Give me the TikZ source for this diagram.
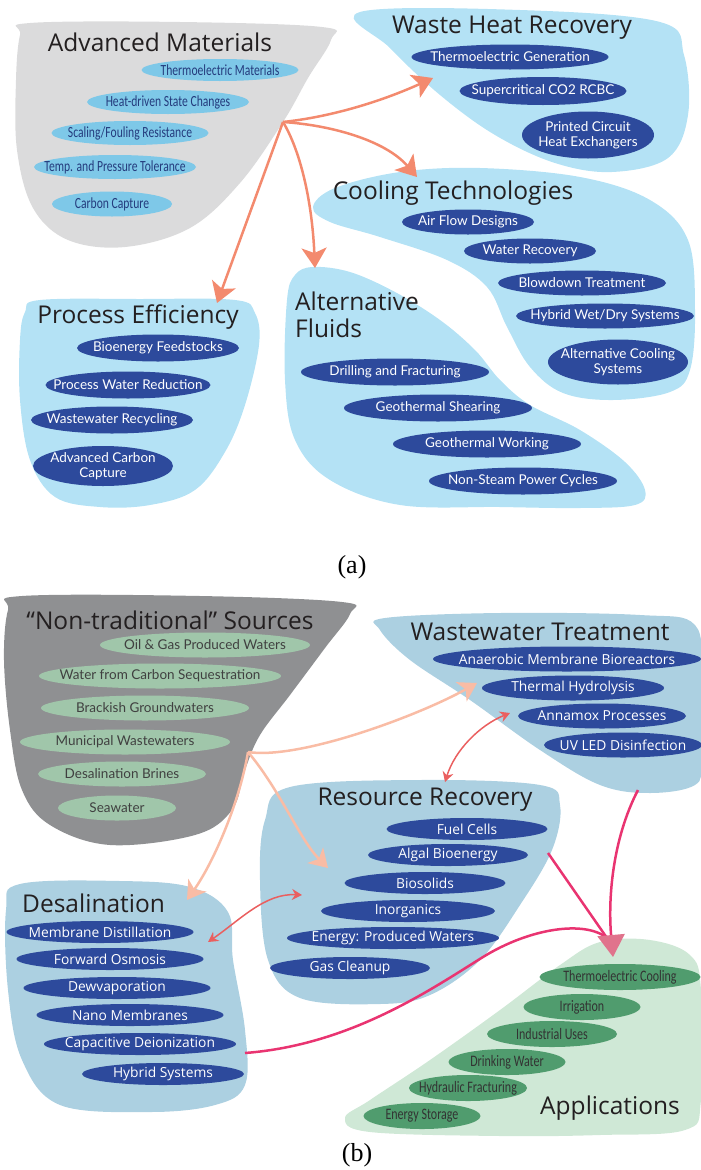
\documentclass[tikz,border=0pt]{standalone}
\usepackage{fontspec}
\setmainfont{Lato}
\newfontfamily\headfont{Open Sans}
\newfontfamily\condfont[FakeStretch=0.75]{Carlito}
\newfontfamily\capfont{Liberation Serif}
\usepackage{tikz}
\usetikzlibrary{arrows.meta,shapes.geometric}

\definecolor{lgray}{RGB}{219,219,220}
\definecolor{dgray}{RGB}{143,144,146}
\definecolor{skyblob}{RGB}{180,226,245}
\definecolor{steelblob}{RGB}{172,208,225}
\definecolor{mintblob}{RGB}{207,232,214}
\definecolor{cyanell}{RGB}{126,200,232}
\definecolor{navyell}{RGB}{45,74,156}
\definecolor{sageell}{RGB}{160,198,170}
\definecolor{greenell}{RGB}{80,156,110}
\definecolor{titletxt}{RGB}{35,31,32}
\definecolor{salmon}{RGB}{243,138,110}
\definecolor{peach}{RGB}{249,188,165}
\definecolor{coral}{RGB}{234,95,95}
\definecolor{magent}{RGB}{233,52,113}
\definecolor{headpink}{RGB}{224,115,140}

\begin{document}
\begin{tikzpicture}[
    x=1pt, y=-1pt,
    grouptitle/.style={font=\headfont\fontsize{24.5}{27}\selectfont, text=titletxt, inner sep=0},
    itm/.style={ellipse, inner xsep=-100pt, inner ysep=-20pt, align=center},
    cyitem/.style={itm, fill=cyanell, text=navyell!80!black, font=\condfont\fontsize{15.5}{17}\selectfont},
    nvitem/.style={itm, fill=navyell, text=white, font=\fontsize{13.5}{15}\selectfont},
    nvbitem/.style={itm, fill=navyell, text=white, font=\headfont\fontsize{13.8}{16}\selectfont},
    sgitem/.style={itm, fill=sageell, text=black!75, font=\fontsize{13.5}{15}\selectfont},
    gnitem/.style={itm, fill=greenell, text=black!80, font=\condfont\fontsize{16}{17}\selectfont},
    orarrow/.style={draw=salmon, line width=2.5pt, -{Stealth[length=20pt,width=25pt,inset=5pt]}},
    pcarrow/.style={draw=peach, line width=2.5pt, -{Stealth[length=18pt,width=22pt,inset=5pt]}},
    dblarrow/.style={draw=coral, line width=1.5pt, {Stealth[length=10pt,width=11pt]}-{Stealth[length=10pt,width=11pt]}},
    mgline/.style={draw=magent, line width=2.5pt},
    mgarrow/.style={mgline, -{Triangle[length=22pt,width=27pt,color=headpink]}},
    capt/.style={font=\capfont\fontsize{26}{28}\selectfont, inner sep=0}
  ]
  \useasboundingbox (0,0) rectangle (701,1170);

  \fill[lgray] plot[smooth cycle, tension=0.6] coordinates {(30,23) (180,22) (322,27) (331,40) (308,78) (283,122) (240,183) (190,228) (125,247) (68,240) (33,208) (17,150) (16,80) (20,35)};
  \fill[skyblob] plot[smooth cycle, tension=0.6] coordinates {(360,12) (520,10) (660,22) (684,55) (688,115) (668,158) (612,172) (555,163) (495,135) (440,95) (390,48)};
  \fill[skyblob] plot[smooth cycle, tension=0.6] coordinates {(313,207) (335,188) (400,172) (480,168) (580,177) (650,200) (688,240) (695,310) (690,370) (670,392) (613,400) (563,393) (530,367) (507,327) (487,287) (447,260) (380,237) (330,222)};
  \fill[skyblob] plot[smooth cycle, tension=0.6] coordinates {(287,300) (295,275) (313,267) (350,272) (395,292) (440,320) (475,350) (500,380) (530,405) (580,430) (625,462) (645,490) (635,505) (580,508) (500,507) (400,505) (330,480) (295,440) (285,380)};
  \fill[skyblob] plot[smooth cycle, tension=0.6] coordinates {(25,312) (40,300) (140,299) (235,300) (255,313) (259,345) (245,405) (225,452) (195,490) (150,505) (100,507) (55,497) (30,460) (20,400) (20,340)};

  \node[grouptitle] (am) at (160,42) {Advanced Materials};
  \node[cyitem, minimum width=157, minimum height=22] (am1) at (220,70) {Thermoelectric Materials};
  \node[cyitem, minimum width=162, minimum height=24] (am2) at (168,102) {Heat-driven State Changes};
  \node[cyitem, minimum width=157, minimum height=24] (am3) at (130,133) {Scaling/Fouling Resistance};
  \node[cyitem, minimum width=162, minimum height=24] (am4) at (115,167) {Temp. and Pressure Tolerance};
  \node[cyitem, minimum width=120, minimum height=25] (am5) at (112,204) {Carbon Capture};

  \node[grouptitle] (whr) at (512,28) {Waste Heat Recovery};
  \node[nvitem, minimum width=197, minimum height=25] (whr1) at (510,57) {Thermoelectric Generation};
  \node[nvitem, minimum width=167, minimum height=28] (whr2) at (543,91) {Supercritical CO2 RCBC};
  \node[nvitem, minimum width=132, minimum height=47] (whr3) at (588,135) {Printed Circuit\\Heat Exchangers};

  \node[grouptitle] (ct) at (453,193) {Cooling Technologies};
  \node[nvitem, minimum width=132, minimum height=25] (ct1) at (468,222) {Air Flow Designs};
  \node[nvitem, minimum width=132, minimum height=25] (ct2) at (530,251) {Water Recovery};
  \node[nvitem, minimum width=168, minimum height=25] (ct3) at (582,283) {Blowdown Treatment};
  \node[nvitem, minimum width=178, minimum height=25] (ct4) at (605,316) {Hybrid Wet/Dry Systems};
  \node[nvitem, minimum width=140, minimum height=45] (ct5) at (618,362) {Alternative Cooling\\Systems};

  \node[grouptitle, anchor=west, align=left] (af) at (295,315) {Alternative\\Fluids};
  \node[nvitem, minimum width=188, minimum height=27] (af1) at (395,372) {Drilling and Fracturing};
  \node[nvitem, minimum width=188, minimum height=27] (af2) at (438,408) {Geothermal Shearing};
  \node[nvitem, minimum width=188, minimum height=27] (af3) at (487,444) {Geothermal Working};
  \node[nvitem, minimum width=188, minimum height=27] (af4) at (523,481) {Non-Steam Power Cycles};

  \node[grouptitle] (pe) at (138,317) {Process Efficiency};
  \node[nvitem, minimum width=162, minimum height=27] (pe1) at (158,348) {Bioenergy Feedstocks};
  \node[nvitem, minimum width=165, minimum height=27] (pe2) at (128,385) {Process Water Reduction};
  \node[nvitem, minimum width=162, minimum height=27] (pe3) at (112,420) {Wastewater Recycling};
  \node[nvitem, minimum width=140, minimum height=40] (pe4) at (103,466) {Advanced Carbon\\Capture};

  \coordinate (hubA) at (283,122);
  \coordinate (tipWHR) at (433,78);
  \coordinate (tipCT) at (417,177);
  \coordinate (tipAF) at (315,268);
  \coordinate (tipPE) at (217,303);
  \draw[orarrow] (hubA) .. controls (330,117) and (380,102) .. (tipWHR);
  \draw[orarrow] (hubA) .. controls (330,125) and (385,140) .. (tipCT);
  \draw[orarrow] (hubA) .. controls (300,150) and (312,200) .. (tipAF);
  \draw[orarrow] (hubA) -- (tipPE);

  \node[capt] (capa) at (352,567) {(a)};

  \fill[dgray] plot[smooth cycle, tension=0.6] coordinates {(22,596) (200,596) (342,602) (350,614) (325,648) (290,695) (260,735) (245,770) (232,810) (195,835) (110,845) (50,825) (22,790) (10,730) (4,660) (8,610)};
  \fill[steelblob] plot[smooth cycle, tension=0.6] coordinates {(385,618) (500,613) (640,615) (695,625) (701,680) (701,760) (695,785) (650,793) (600,785) (540,750) (470,700) (410,660) (380,630)};
  \fill[steelblob] plot[smooth cycle, tension=0.6] coordinates {(290,787) (420,780) (540,785) (560,805) (552,850) (520,905) (480,960) (430,995) (380,1004) (300,998) (268,960) (260,880) (265,820)};
  \fill[steelblob] plot[smooth cycle, tension=0.6] coordinates {(20,884) (120,881) (190,887) (228,912) (233,960) (245,1030) (245,1085) (215,1105) (150,1112) (60,1105) (22,1060) (8,990) (6,910)};
  \fill[mintblob] plot[smooth cycle, tension=0.6] coordinates {(600,942) (650,940) (690,955) (701,990) (701,1100) (685,1130) (600,1135) (500,1136) (370,1132) (345,1118) (370,1100) (430,1060) (500,1010) (560,965)};

  \node[grouptitle] (nts) at (170,620) {“Non-traditional” Sources};
  \node[sgitem, minimum width=210, minimum height=25] (nts1) at (205,645) {Oil \& Gas Produced Waters};
  \node[sgitem, minimum width=242, minimum height=25] (nts2) at (160,676) {Water from Carbon Sequestration};
  \node[sgitem, minimum width=208, minimum height=25] (nts3) at (145,708) {Brackish Groundwaters};
  \node[sgitem, minimum width=210, minimum height=25] (nts4) at (125,742) {Municipal Wastewaters};
  \node[sgitem, minimum width=168, minimum height=25] (nts5) at (122,774) {Desalination Brines};
  \node[sgitem, minimum width=118, minimum height=25] (nts6) at (117,808) {Seawater};

  \node[grouptitle] (wt) at (540,632) {Wastewater Treatment};
  \node[nvbitem, minimum width=268, minimum height=25] (wt1) at (567,659) {Anaerobic Membrane Bioreactors};
  \node[nvbitem, minimum width=182, minimum height=25] (wt2) at (573,688) {Thermal Hydrolysis};
  \node[nvbitem, minimum width=168, minimum height=25] (wt3) at (602,716) {Annamox Processes};
  \node[nvbitem, minimum width=158, minimum height=25] (wt4) at (623,745) {UV LED Disinfection};

  \node[grouptitle] (rr) at (425,800) {Resource Recovery};
  \node[nvbitem, minimum width=161, minimum height=22] (rr1) at (467,829) {Fuel Cells};
  \node[nvbitem, minimum width=160, minimum height=22] (rr2) at (448,855) {Algal Bioenergy};
  \node[nvbitem, minimum width=161, minimum height=22] (rr3) at (425,883) {Biosolids};
  \node[nvbitem, minimum width=174, minimum height=22] (rr4) at (408,911) {Inorganics};
  \node[nvbitem, minimum width=212, minimum height=22] (rr5) at (393,938) {Energy: Produced Waters};
  \node[nvbitem, minimum width=160, minimum height=22] (rr6) at (350,968) {Gas Cleanup};

  \node[grouptitle, anchor=west] (ds) at (22,903) {Desalination};
  \node[nvbitem, minimum width=187, minimum height=22] (ds1) at (100,932) {Membrane Distillation};
  \node[nvbitem, minimum width=187, minimum height=22] (ds2) at (110,959) {Forward Osmosis};
  \node[nvbitem, minimum width=187, minimum height=22] (ds3) at (117,988) {Dewvaporation};
  \node[nvbitem, minimum width=187, minimum height=22] (ds4) at (130,1015) {Nano Membranes};
  \node[nvbitem, minimum width=192, minimum height=22] (ds5) at (140,1044) {Capacitive Deionization};
  \node[nvbitem, minimum width=162, minimum height=22] (ds6) at (163,1074) {Hybrid Systems};

  \node[grouptitle] (ap) at (610,1108) {Applications};
  \node[gnitem, minimum width=161, minimum height=26] (ap1) at (620,977) {Thermoelectric Cooling};
  \node[gnitem, minimum width=117, minimum height=26] (ap2) at (582,1007) {Irrigation};
  \node[gnitem, minimum width=130, minimum height=26] (ap3) at (552,1034) {Industrial Uses};
  \node[gnitem, minimum width=117, minimum height=26] (ap4) at (507,1062) {Drinking Water};
  \node[gnitem, minimum width=118, minimum height=26] (ap5) at (468,1088) {Hydraulic Fracturing};
  \node[gnitem, minimum width=117, minimum height=26] (ap6) at (422,1116) {Energy Storage};

  \coordinate (hubB) at (248,752);
  \coordinate (tipWT) at (477,683);
  \coordinate (tipRR) at (328,868);
  \coordinate (tipDS) at (187,900);
  \draw[pcarrow] (hubB) .. controls (300,760) and (420,715) .. (tipWT);
  \draw[pcarrow] (hubB) .. controls (280,790) and (300,840) .. (tipRR);
  \draw[pcarrow] (hubB) .. controls (240,800) and (215,860) .. (tipDS);

  \coordinate (wtEnd) at (510,713);
  \coordinate (rrTop) at (445,782);
  \coordinate (dsEnd) at (208,942);
  \coordinate (rrLeft) at (302,895);
  \draw[dblarrow] (rrTop) .. controls (455,750) and (480,725) .. (wtEnd);
  \draw[dblarrow] (dsEnd) .. controls (240,920) and (265,893) .. (rrLeft);

  \coordinate (tipAP) at (613,957);
  \coordinate (headAP) at (607,938);
  \coordinate (wtOut) at (638,790);
  \coordinate (rrOut) at (548,853);
  \coordinate (dsOut) at (245,1053);
  \coordinate (dsMid) at (483,957);
  \draw[mgline] (rrOut) -- (headAP);
  \draw[mgline] (dsOut) .. controls (350,1045) and (430,990) .. (dsMid) .. controls (530,928) and (585,920) .. (headAP);
  \draw[mgarrow] (wtOut) .. controls (612,840) and (608,900) .. (tipAP);

  \node[capt] (capb) at (357,1155) {(b)};
\end{tikzpicture}
\end{document}
